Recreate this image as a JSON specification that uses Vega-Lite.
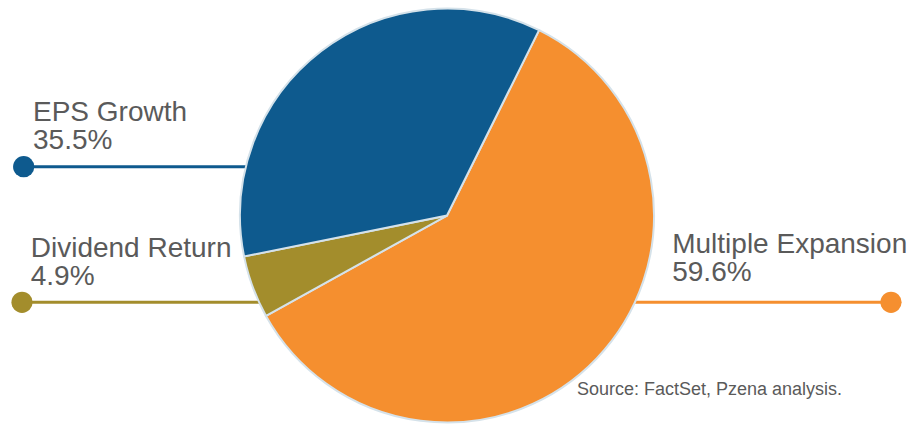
{
  "$schema": "https://vega.github.io/schema/vega-lite/v6.json",
  "width": 909,
  "height": 424,
  "padding": 0,
  "autosize": {"type": "none"},
  "background": "white",
  "config": {"view": {"stroke": null}, "font": "Liberation Sans"},
  "datasets": {
    "slices": [
      {"category": "Multiple Expansion", "share": 59.6, "rank": 1},
      {"category": "Dividend Return", "share": 4.9, "rank": 2},
      {"category": "EPS Growth", "share": 35.5, "rank": 3}
    ],
    "labels": [
      {"category": "EPS Growth", "pct": "35.5%", "dotX": -2.045, "lineY": 0.2357, "labelX": -2.0, "labelY": 0.4565},
      {"category": "Dividend Return", "pct": "4.9%", "dotX": -2.053, "lineY": -0.4193, "labelX": -2.011, "labelY": -0.2005},
      {"category": "Multiple Expansion", "pct": "59.6%", "dotX": 2.145, "lineY": -0.4193, "labelX": 1.088, "labelY": -0.1826}
    ],
    "notes": [
      {"note": "Source: FactSet, Pzena analysis.", "nx": 0.628, "ny": -0.867}
    ]
  },
  "encoding": {
    "color": {
      "field": "category",
      "type": "nominal",
      "scale": {
        "domain": ["Multiple Expansion", "Dividend Return", "EPS Growth"],
        "range": ["#f58f2f", "#a38d2c", "#0e5a8e"]
      },
      "legend": null
    }
  },
  "layer": [
    {
      "data": {"name": "labels"},
      "mark": {"type": "rule", "strokeWidth": 3},
      "encoding": {
        "x": {"field": "dotX", "type": "quantitative", "scale": {"domain": [-2.1594, 2.2319], "nice": false, "zero": false}, "axis": null},
        "x2": {"datum": 0},
        "y": {"field": "lineY", "type": "quantitative", "scale": {"domain": [-1.0072, 1.0411], "nice": false, "zero": false}, "axis": null}
      }
    },
    {
      "data": {"name": "labels"},
      "mark": {"type": "point", "filled": true, "size": 450, "opacity": 1},
      "encoding": {
        "x": {"field": "dotX", "type": "quantitative"},
        "y": {"field": "lineY", "type": "quantitative"}
      }
    },
    {
      "data": {"name": "slices"},
      "mark": {"type": "arc", "radius": 207, "stroke": "#d5e2ea", "strokeWidth": 2},
      "encoding": {
        "theta": {"field": "share", "type": "quantitative", "stack": true, "scale": {"range": [0.461, 6.744]}},
        "order": {"field": "rank", "type": "quantitative"},
        "x": {"datum": 0, "type": "quantitative"},
        "y": {"datum": 0, "type": "quantitative"}
      }
    },
    {
      "data": {"name": "labels"},
      "mark": {"type": "text", "align": "left", "baseline": "alphabetic", "fontSize": 28},
      "encoding": {
        "x": {"field": "labelX", "type": "quantitative"},
        "y": {"field": "labelY", "type": "quantitative"},
        "text": {"field": "category"},
        "color": {"value": "#5a5a5a"}
      }
    },
    {
      "data": {"name": "labels"},
      "mark": {"type": "text", "align": "left", "baseline": "alphabetic", "fontSize": 28, "dy": 28},
      "encoding": {
        "x": {"field": "labelX", "type": "quantitative"},
        "y": {"field": "labelY", "type": "quantitative"},
        "text": {"field": "pct"},
        "color": {"value": "#5a5a5a"}
      }
    },
    {
      "data": {"name": "notes"},
      "mark": {"type": "text", "align": "left", "baseline": "alphabetic", "fontSize": 18},
      "encoding": {
        "x": {"field": "nx", "type": "quantitative"},
        "y": {"field": "ny", "type": "quantitative"},
        "text": {"field": "note"},
        "color": {"value": "#5a5a5a"}
      }
    }
  ]
}
